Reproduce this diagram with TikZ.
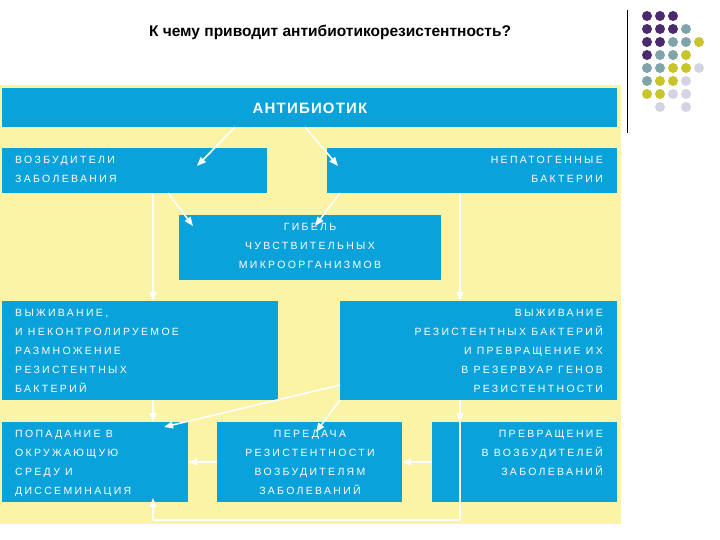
\documentclass[tikz,border=0pt]{standalone}
\usepackage{fontspec}
\setmainfont{Liberation Sans}
\newfontfamily\boxfont[LetterSpace=22]{Liberation Sans}
\usetikzlibrary{arrows.meta}
\definecolor{bx}{HTML}{0AA2DA}
\definecolor{bgy}{HTML}{FBF3A6}
\definecolor{dp}{HTML}{4B2A6E}
\definecolor{dg}{HTML}{7FA4A9}
\definecolor{dy}{HTML}{C9C42C}
\definecolor{dl}{HTML}{D3D3E3}
\tikzset{
  blk/.style={fill=bx,draw=none},
  txt/.style={text=white,font=\boxfont\fontsize{10.5}{19}\selectfont,inner sep=0pt},
  wl/.style={draw=white,line width=1.6pt},
  wa/.style={draw=white,line width=1.6pt,-{Triangle[width=7pt,length=9pt]}},
  dot/.style={circle,inner sep=0pt,minimum size=10pt}
}
\begin{document}
\begin{tikzpicture}[x=1pt,y=-1pt]
\useasboundingbox (0,0) rectangle (720,540);
\fill[white] (0,0) rectangle (720,540);
\node[font=\bfseries\fontsize{15.5}{18}\selectfont,anchor=center] (title) at (330,32) {К чему приводит антибиотикорезистентность?};
\draw[black,line width=0.8pt] (627,10) -- (627,133);
% dots
\foreach \c/\x/\y in {dp/0/0,dp/1/0,dp/2/0,
 dp/0/1,dp/1/1,dp/2/1,dg/3/1,
 dp/0/2,dp/1/2,dg/2/2,dg/3/2,dy/4/2,
 dp/0/3,dg/1/3,dg/2/3,dy/3/3,
 dg/0/4,dg/1/4,dy/2/4,dy/3/4,dl/4/4,
 dg/0/5,dy/1/5,dy/2/5,dl/3/5,
 dy/0/6,dy/1/6,dl/2/6,dl/3/6,
 dl/1/7,dl/3/7}
 \node[dot,fill=\c] at (647+13*\x,16+13*\y) {};
% background
\fill[bgy] (0,85) rectangle (621,524);
% boxes
\fill[blk] (2,88) rectangle (617,127);
\fill[blk] (2,148) rectangle (267,193);
\fill[blk] (327,148) rectangle (617,193);
\fill[blk] (179,215) rectangle (441,280);
\fill[blk] (2,301) rectangle (278,400);
\fill[blk] (340,301) rectangle (617,400);
\fill[blk] (2,422) rectangle (188,502);
\fill[blk] (217,422) rectangle (402,502);
\fill[blk] (432,422) rectangle (617,502);
\node[text=white,font=\bfseries\fontsize{15}{18}\selectfont\addfontfeature{LetterSpace=8}] (ab) at (310,108) {АНТИБИОТИК};
\node[txt,anchor=north west,align=left] (vz) at (15,156) {ВОЗБУДИТЕЛИ\\ЗАБОЛЕВАНИЯ};
\node[txt,anchor=north east,align=right] (np) at (603,156) {НЕПАТОГЕННЫЕ\\БАКТЕРИИ};
\node[txt,anchor=north,align=center] (gb) at (310,223) {ГИБЕЛЬ\\ЧУВСТВИТЕЛЬНЫХ\\МИКРООРГАНИЗМОВ};
\node[txt,anchor=north west,align=left] (vl) at (15,309) {ВЫЖИВАНИЕ,\\И НЕКОНТРОЛИРУЕМОЕ\\РАЗМНОЖЕНИЕ\\РЕЗИСТЕНТНЫХ\\БАКТЕРИЙ};
\node[txt,anchor=north east,align=right] (vr) at (603,309) {ВЫЖИВАНИЕ\\РЕЗИСТЕНТНЫХ БАКТЕРИЙ\\И ПРЕВРАЩЕНИЕ ИХ\\В РЕЗЕРВУАР ГЕНОВ\\РЕЗИСТЕНТНОСТИ};
\node[txt,anchor=north west,align=left] (pp) at (15,430) {ПОПАДАНИЕ В\\ОКРУЖАЮЩУЮ\\СРЕДУ И\\ДИССЕМИНАЦИЯ};
\node[txt,anchor=north,align=center] (pr) at (310,430) {ПЕРЕДАЧА\\РЕЗИСТЕНТНОСТИ\\ВОЗБУДИТЕЛЯМ\\ЗАБОЛЕВАНИЙ};
\node[txt,anchor=north east,align=right] (pv) at (603,430) {ПРЕВРАЩЕНИЕ\\В ВОЗБУДИТЕЛЕЙ\\ЗАБОЛЕВАНИЙ};
% connector coordinates
\coordinate (a1) at (235,127); \coordinate (a1e) at (197,166);
\coordinate (a2) at (305,127); \coordinate (a2e) at (338,166);
\coordinate (b1) at (168,193); \coordinate (b1e) at (193,226);
\coordinate (b2) at (340,193); \coordinate (b2e) at (315,226);
\coordinate (l0) at (153,193); \coordinate (l1) at (153,301);
\coordinate (l2) at (153,400); \coordinate (l3) at (153,422);
\coordinate (l4) at (153,520); \coordinate (l5) at (153,498);
\coordinate (r0) at (460,193); \coordinate (r1) at (460,301);
\coordinate (r2) at (460,400); \coordinate (r3) at (460,422);
\coordinate (r4) at (460,520);
\coordinate (c1) at (340,385); \coordinate (c1e) at (164,427);
\coordinate (c2) at (340,400); \coordinate (c2e) at (316,432);
\coordinate (p1) at (432,462); \coordinate (p1e) at (402,462);
\coordinate (p2) at (217,462); \coordinate (p2e) at (188,462);
\draw[wa] (l0) -- (l1);
\draw[wa] (a1) -- (a1e);
\draw[wa] (a2) -- (a2e);
\draw[wa] (b1) -- (b1e);
\draw[wa] (b2) -- (b2e);
\draw[wa] (l2) -- (l3);
\draw[wa] (l4) -- (l5);
\draw[wl] (l4) -- (r4);
\draw[wa] (r0) -- (r1);
\draw[wa] (r2) -- (r3);
\draw[wl] (r3) -- (r4);
\draw[wa] (c1) -- (c1e);
\draw[wa] (c2) -- (c2e);
\draw[wa] (p1) -- (p1e);
\draw[wa] (p2) -- (p2e);
\end{tikzpicture}
\end{document}
